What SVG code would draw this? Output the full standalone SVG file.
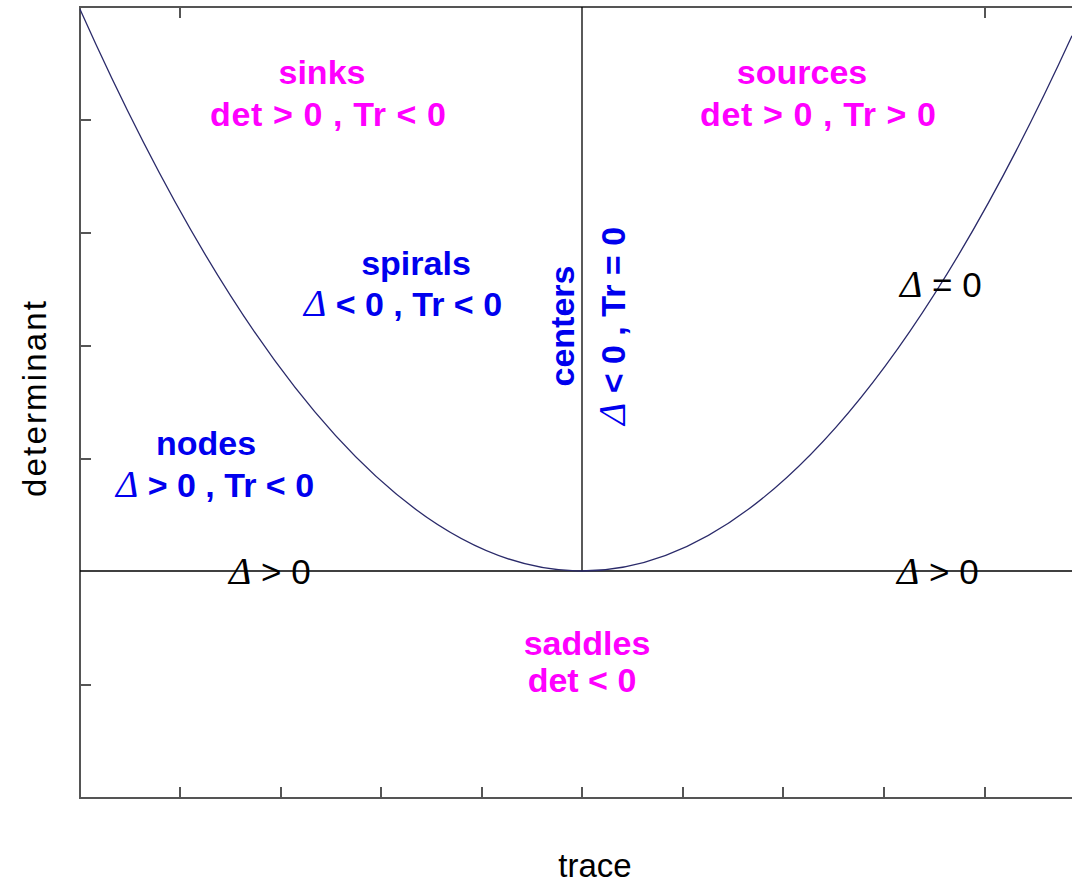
<svg xmlns="http://www.w3.org/2000/svg" width="1072" height="886" viewBox="0 0 1072 886">
<style>
.ax{stroke:#555;stroke-width:2;fill:none}
.tk{stroke:#555;stroke-width:2}
.ln{stroke:#000;stroke-width:1.3;fill:none}
.cv{stroke:#2a2a6a;stroke-width:1.3;fill:none}
.lab{font-family:"Liberation Sans",Arial,sans-serif;font-weight:bold;font-size:34px;text-anchor:middle}
.mg{fill:#ff00ff}
.bl{fill:#0000ee}
.k{font-family:"Liberation Sans",Arial,sans-serif;font-size:35px;fill:#000}
.d{font-family:"Liberation Serif",serif;font-style:italic;font-weight:normal;font-size:38px}
.axl{font-family:"Liberation Sans",Arial,sans-serif;font-size:33px;fill:#000;text-anchor:middle}
</style>
<rect width="1072" height="886" fill="#fff"/>
<g id="axes">
<polyline class="ax" points="1072,7 80,7 80,798 1072,798"/>
<g class="tk">
<line x1="80" y1="120" x2="91" y2="120"/><line x1="80" y1="233" x2="91" y2="233"/><line x1="80" y1="346" x2="91" y2="346"/><line x1="80" y1="459" x2="91" y2="459"/><line x1="80" y1="685" x2="91" y2="685"/>
<line x1="180" y1="798" x2="180" y2="787"/><line x1="281" y1="798" x2="281" y2="787"/><line x1="381" y1="798" x2="381" y2="787"/><line x1="482" y1="798" x2="482" y2="787"/><line x1="582" y1="798" x2="582" y2="787"/><line x1="683" y1="798" x2="683" y2="787"/><line x1="783" y1="798" x2="783" y2="787"/><line x1="884" y1="798" x2="884" y2="787"/><line x1="985" y1="798" x2="985" y2="787"/>
<line x1="180" y1="7" x2="180" y2="18"/><line x1="985" y1="7" x2="985" y2="18"/>
</g>
</g>
<g id="connectors">
<line class="ln" x1="80" y1="571" x2="1072" y2="571"/>
<line class="ln" x1="582" y1="7" x2="582" y2="571"/>
<path class="cv" d="M80,9.3 Q576,1119.3 1072,35.8"/>
</g>
<g id="sinks"><text class="lab mg" x="322" y="84">sinks</text><text class="lab mg" x="328" y="126" textLength="236">det &gt; 0 , Tr &lt; 0</text></g>
<g id="sources"><text class="lab mg" x="802" y="84">sources</text><text class="lab mg" x="818" y="126" textLength="236">det &gt; 0 , Tr &gt; 0</text></g>
<g id="spirals"><text class="lab bl" x="416" y="275">spirals</text><text class="lab bl" x="403" y="316"><tspan class="d">Δ</tspan> &lt; 0 , Tr &lt; 0</text></g>
<g id="centers"><text class="lab bl" transform="translate(574,326) rotate(-90)">centers</text><text class="lab bl" transform="translate(625,326) rotate(-90)"><tspan class="d">Δ</tspan> &lt; 0 , Tr = 0</text></g>
<g id="nodes"><text class="lab bl" x="206" y="455">nodes</text><text class="lab bl" x="215" y="497"><tspan class="d">Δ</tspan> &gt; 0 , Tr &lt; 0</text></g>
<g id="saddles"><text class="lab mg" x="587" y="655">saddles</text><text class="lab mg" x="582" y="692">det &lt; 0</text></g>
<g id="delta0"><text class="k" x="900" y="297"><tspan class="d">Δ</tspan> = 0</text></g>
<g id="deltapos1"><text class="k" x="229" y="584"><tspan class="d">Δ</tspan> &gt; 0</text></g>
<g id="deltapos2"><text class="k" x="897" y="584"><tspan class="d">Δ</tspan> &gt; 0</text></g>
<text class="axl" transform="translate(46,399) rotate(-90)" textLength="196">determinant</text>
<text class="axl" x="595" y="877">trace</text>
</svg>
